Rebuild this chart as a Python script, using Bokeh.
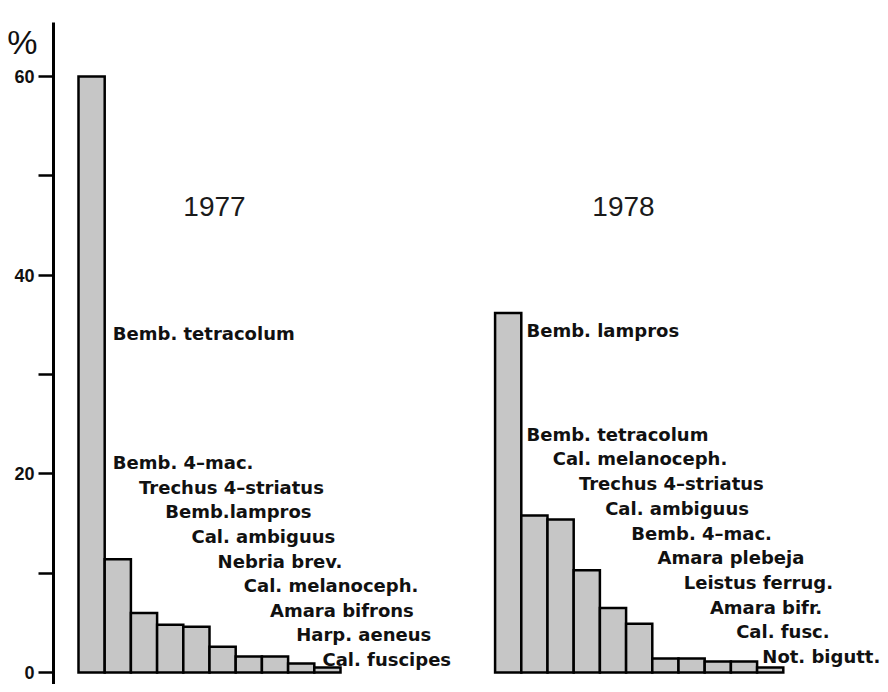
from bokeh.plotting import figure
from bokeh.models import Range1d, FixedTicker, ColumnDataSource
from bokeh.embed import file_html
from bokeh.resources import INLINE
from bokeh.core.properties import value

# ---- data ----
species_1977 = ["Bemb. tetracolum", "Bemb. 4–mac.", "Trechus 4–striatus", "Bemb.lampros",
                "Cal. ambiguus", "Nebria  brev.", "Cal. melanoceph.", "Amara bifrons",
                "Harp. aeneus", "Cal. fuscipes"]
pct_1977 = [60.0, 11.4, 6.0, 4.8, 4.6, 2.6, 1.6, 1.6, 0.9, 0.5]

species_1978 = ["Bemb. lampros", "Bemb. tetracolum", "Cal. melanoceph.", "Trechus 4–striatus",
                "Cal. ambiguus", "Bemb. 4–mac.", "Amara plebeja", "Leistus ferrug.",
                "Amara bifr.", "Cal. fusc.", "Not. bigutt."]
pct_1978 = [36.2, 15.8, 15.4, 10.3, 6.5, 4.9, 1.4, 1.4, 1.1, 1.1, 0.5]

years = ["1977", "1978"]
unit_label = "%"
y_ticks = [0, 10, 20, 30, 40, 50, 60]
y_tick_labels = {0: "0", 10: "", 20: "20", 30: "", 40: "40", 50: "", 60: "60"}

# ---- layout constants ----
GAP = 15.9            # start position of the 1978 group (in bar widths)
BAR_FILL = "#c6c6c6"
AXIS_X = -1.454       # where the y axis stands (data x)
Y_LOW, Y_HIGH = -1.21, 67.65
Y_TOP = 65.44         # top end of the axis line

x77 = [float(i) for i in range(len(pct_1977))]
x78 = [GAP + j for j in range(len(pct_1978))]

p = figure(width=880, height=684,
           x_range=Range1d(-3.477, 30.11), y_range=Range1d(Y_LOW, Y_HIGH),
           output_backend="svg", toolbar_location=None,
           min_border_left=0, min_border_top=0, min_border_bottom=0, min_border_right=0)

p.vbar(x=x77 + x78, top=pct_1977 + pct_1978, bottom=0, width=1.0,
       fill_color=BAR_FILL, line_color="black", line_width=2.5, line_join="miter")

# species labels: staircase to the right of the bars
def label_rows(xs, names, offset, y_first, y_start, y_step):
    lx, ly = [], []
    for k in range(len(names)):
        bar = xs[max(k, 1)]
        lx.append(bar - 0.5 + offset)
        ly.append(y_first if k == 0 else y_start - y_step * (k - 1))
    return lx, ly

lx77, ly77 = label_rows(x77, species_1977, 0.31, 34.1, 21.1, 2.47)
lx78, ly78 = label_rows(x78, species_1978, 0.20, 34.4, 24.0, 2.49)

lab_src = ColumnDataSource(dict(x=lx77 + lx78, y=ly77 + ly78, t=species_1977 + species_1978))
p.text(x="x", y="y", text="t", source=lab_src,
       text_font=value("DejaVu Sans"), text_font_style="bold", text_font_size="18px",
       text_align="left", text_baseline="alphabetic", text_color="#111111")

# year titles
year_src = ColumnDataSource(dict(x=[4.69, 20.3], y=[46.9, 46.9], t=years))
p.text(x="x", y="y", text="t", source=year_src,
       text_font=value("Liberation Sans"), text_font_size="28px",
       text_align="center", text_baseline="alphabetic", text_color="#1a1a1a")

# percent sign above the axis
p.text(x=[AXIS_X - 1.19], y=[63.43], text=[unit_label],
       text_font=value("Liberation Sans"), text_font_size="34px",
       text_align="center", text_baseline="alphabetic", text_color="#111111")

# axes
p.xaxis.visible = False
p.yaxis.fixed_location = AXIS_X
p.yaxis.bounds = (Y_LOW, Y_TOP)
p.yaxis.ticker = FixedTicker(ticks=y_ticks, minor_ticks=[])
p.yaxis.major_label_overrides = y_tick_labels
p.yaxis.axis_line_width = 3
p.yaxis.axis_line_color = "black"
p.yaxis.major_tick_line_width = 2.5
p.yaxis.major_tick_out = 15
p.yaxis.major_tick_in = 0
p.yaxis.minor_tick_out = 0
p.yaxis.minor_tick_in = 0
p.yaxis.major_label_standoff = 4
p.yaxis.major_label_text_font = "Liberation Sans"
p.yaxis.major_label_text_font_style = "bold"
p.yaxis.major_label_text_font_size = "18px"
p.yaxis.major_label_text_color = "#111111"

p.grid.visible = False
p.outline_line_color = None
p.background_fill_color = "white"
p.border_fill_color = "white"

open("out.html", "w").write(file_html(p, INLINE))
